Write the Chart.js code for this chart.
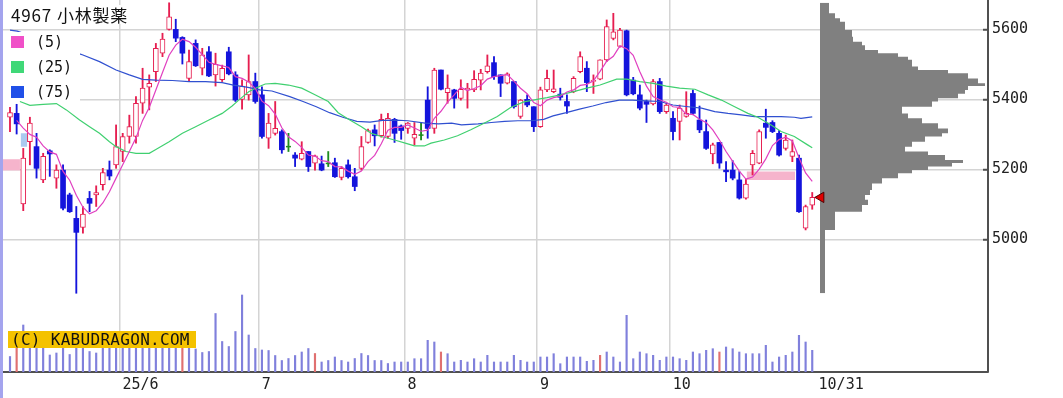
<!DOCTYPE html>
<html>
<head>
<meta charset="utf-8">
<script src="https://cdn.jsdelivr.net/npm/chart.js@4/dist/chart.umd.min.js"></script>
<style>
html, body { margin: 0; padding: 0; background: #fff; overflow: hidden; }
#wrap { position: relative; width: 1060px; height: 398px; border-left: 3px solid #a4a4ee; }
#c { position: absolute; left: 0; top: 0; }
#title { position: absolute; left: 8px; top: 5px; font: 17px "Noto Sans CJK JP", sans-serif; line-height: 19px; letter-spacing: 0.8px; color: #111; background: #fff; }
#title span { margin-left: 5px; }
#legend { position: absolute; left: 0; top: 32px; width: 77px; height: 69px; background: #fff; }
.sq { position: absolute; left: 8px; width: 13px; height: 12px; }
.lt { position: absolute; left: 33px; font: 15px "DejaVu Sans Mono", monospace; line-height: 15px; color: #111; }
#wm { position: absolute; left: 5px; top: 331px; width: 188px; height: 17px; background: #f4c200;
      font: 16px "DejaVu Sans Mono", monospace; line-height: 17px; letter-spacing: 0.3px; color: #111; padding-left: 3px; box-sizing: border-box; }
</style>
</head>
<body>
<div id="wrap">
  <canvas id="c" width="1060" height="398"></canvas>
  <div id="title">4967<span>小林製薬</span></div>
  <div id="legend">
    <div class="sq" style="top:4px;background:#f050c8"></div><div class="lt" style="top:3px">(5)</div>
    <div class="sq" style="top:29px;background:#40d878"></div><div class="lt" style="top:28px">(25)</div>
    <div class="sq" style="top:54px;background:#2050e8"></div><div class="lt" style="top:53px">(75)</div>
  </div>
  <div id="wm">(C) KABUDRAGON.COM</div>
</div>
<script>
// daily candles, 2025-05-08 .. 2025-10-31 (index = trading day)
var opens = [5349,5360,5101,5279,5265,5170,5253,5175,5198,5127,
  5060,5034,5117,5127,5156,5198,5213,5251,5294,5294,
  5389,5435,5479,5532,5600,5600,5577,5460,5560,5489,
  5536,5470,5456,5536,5470,5400,5413,5451,5413,5289,
  5303,5308,5265,5241,5229,5251,5218,5216,5217,5219,
  5177,5213,5179,5203,5277,5313,5296,5294,5343,5324,
  5317,5289,5298,5398,5317,5484,5419,5427,5403,5427,
  5427,5455,5479,5505,5470,5446,5451,5351,5400,5379,
  5322,5427,5422,5415,5394,5422,5479,5489,5451,5458,
  5513,5574,5551,5596,5455,5413,5394,5387,5451,5365,
  5346,5337,5351,5417,5341,5308,5244,5277,5198,5198,
  5170,5118,5213,5218,5332,5334,5303,5260,5237,5232,
  5032,5098];
var highs = [5377,5386,5260,5349,5303,5246,5256,5213,5213,5132,
  5094,5094,5137,5153,5203,5224,5327,5303,5355,5408,
  5489,5470,5560,5589,5676,5629,5579,5541,5570,5546,
  5551,5532,5498,5549,5479,5456,5527,5475,5436,5360,
  5394,5313,5303,5248,5279,5251,5241,5238,5251,5232,
  5208,5227,5203,5294,5315,5327,5358,5360,5346,5327,
  5334,5334,5332,5436,5489,5484,5470,5429,5456,5446,
  5482,5486,5527,5522,5470,5476,5451,5400,5413,5379,
  5435,5484,5484,5432,5413,5465,5536,5508,5470,5513,
  5627,5646,5603,5598,5463,5441,5398,5457,5460,5389,
  5365,5384,5422,5427,5381,5341,5275,5277,5222,5225,
  5194,5172,5254,5313,5372,5339,5311,5298,5284,5241,
  5098,5134];
var lows = [5308,5301,5082,5213,5175,5162,5180,5146,5084,5077,
  4846,5018,5079,5094,5141,5170,5203,5222,5275,5275,
  5360,5370,5451,5522,5598,5565,5501,5451,5494,5470,
  5465,5438,5451,5470,5394,5372,5398,5389,5289,5260,
  5298,5246,5251,5208,5227,5194,5198,5196,5208,5177,
  5170,5175,5139,5198,5275,5267,5292,5289,5277,5286,
  5303,5270,5284,5289,5303,5427,5389,5375,5398,5375,
  5422,5427,5475,5457,5408,5444,5375,5346,5379,5308,
  5320,5422,5419,5398,5360,5419,5476,5422,5417,5456,
  5508,5570,5549,5410,5413,5370,5334,5384,5360,5360,
  5284,5284,5349,5356,5305,5257,5216,5203,5165,5170,
  5115,5115,5184,5216,5289,5305,5238,5255,5222,5077,
  5027,5086];
var closes = [5362,5330,5232,5332,5203,5237,5244,5198,5089,5079,
  5020,5072,5103,5134,5191,5181,5265,5294,5322,5389,
  5432,5446,5546,5572,5636,5575,5532,5508,5496,5527,
  5467,5500,5489,5473,5398,5438,5451,5394,5294,5332,
  5317,5256,5265,5232,5246,5208,5239,5198,5217,5179,
  5203,5179,5151,5265,5311,5296,5343,5346,5303,5311,
  5332,5300,5298,5317,5484,5429,5432,5403,5429,5432,
  5457,5475,5496,5465,5446,5473,5379,5398,5384,5322,
  5427,5460,5430,5406,5381,5460,5522,5448,5455,5513,
  5608,5593,5598,5413,5416,5375,5386,5451,5365,5384,
  5308,5375,5360,5360,5313,5260,5270,5218,5193,5175,
  5118,5158,5246,5308,5320,5308,5241,5284,5251,5079,
  5094,5120];
// volume, thousand shares
var volumes = [155,300,470,280,300,260,170,190,260,175,
  360,300,205,190,250,240,300,280,260,320,
  300,280,330,300,340,310,280,260,230,195,
  205,585,305,255,405,770,370,235,220,215,
  165,115,135,165,200,235,185,100,115,150,
  115,100,135,185,165,115,115,85,100,100,
  100,133,133,317,300,200,183,100,117,100,
  133,100,167,100,100,100,167,117,100,100,
  150,150,183,83,150,150,150,107,117,167,
  200,150,100,567,133,200,183,167,117,150,
  150,133,117,200,183,217,233,200,250,233,
  200,183,183,183,267,100,150,167,200,367,
  300,217];
var sqDays = [1, 26, 46, 65, 89, 107];

var ma5 = [null,5340,5318,5300,5292,5267,5250,5243,5194,5169,
  5126,5092,5073,5082,5104,5136,5175,5213,5251,5290,
  5340,5377,5427,5477,5526,5555,5572,5565,5549,5528,
  5506,5500,5496,5491,5465,5460,5450,5431,5395,5382,
  5358,5319,5293,5280,5263,5241,5238,5225,5222,5208,
  5207,5195,5186,5195,5222,5240,5273,5312,5320,5320,
  5327,5318,5309,5312,5346,5366,5392,5413,5435,5425,
  5431,5439,5458,5465,5468,5471,5452,5432,5416,5391,
  5382,5398,5405,5409,5421,5427,5440,5443,5453,5480,
  5509,5523,5553,5545,5526,5479,5438,5408,5399,5392,
  5379,5377,5358,5357,5343,5334,5313,5284,5251,5223,
  5195,5172,5178,5201,5230,5268,5285,5292,5281,5233,
  5190,5166];
var ma25Idx = [1.5,3,5,7,8.5,10.5,12,13.5,15,16,17.5,19,21,22,24,26,28,30,32,33.5,
  34.5,36,37.5,38.5,40,42,44,46,48,49.5,51,53,54.5,56,58,60,61,62.5,63.5,65.5,
  67.5,69.5,71.5,73.5,75.5,77.5,79.5,81,83,85,87,89,91.5,93,95,97,99,101,103.3,105.3,
  107.3,109.3,111.3,112.8,114.8,116.3,118.3,120.3,121];
var ma25Val = [5394,5383,5386,5388,5370,5341,5322,5303,5279,5265,5251,5246,5246,5257,5279,5303,5322,5341,5360,5381,
  5398,5422,5436,5444,5446,5441,5432,5413,5394,5362,5344,5322,5303,5294,5284,5273,5267,5267,5275,5284,
  5296,5313,5332,5351,5377,5393,5400,5405,5413,5422,5432,5441,5458,5458,5451,5446,5438,5432,5429,5413,
  5398,5379,5360,5349,5327,5308,5294,5270,5262];
var ma75Idx = [0,1.1,10.5,11,13.5,16,18,20,22,24.5,27,29.5,32,33.7,35.7,37.7,39.5,42.2,44.2,46.2,
  48.2,50.2,52.3,54.3,56.2,58.2,60,62.6,64.6,66.6,68.1,70.6,72.6,74.6,76.6,78.6,80.5,81.9,83.9,85.9,
  87.9,89.9,91.9,93.9,96,98,100,102.3,104.3,106.3,108.3,110.3,112.3,114.3,116.3,118.3,119.3,121];
var ma75Val = [5598,5595,5530,5527,5508,5484,5470,5457,5455,5454,5451,5451,5448,5441,5435,5427,5424,5408,5394,5379,
  5362,5349,5337,5335,5340,5341,5339,5332,5330,5332,5327,5330,5334,5337,5339,5339,5343,5353,5362,5372,
  5381,5391,5398,5398,5396,5394,5384,5379,5375,5365,5360,5356,5351,5351,5351,5349,5346,5350];

// price-by-volume profile: bin top price and relative volume
var profTop = [5676,5646,5632,5622,5598,5579,5565,5555,5541,5532,5522,5513,5494,5484,5475,5460,
  5446,5438,5427,5416,5403,5394,5379,5360,5346,5332,5317,5303,5294,5279,5265,5251,
  5241,5227,5218,5208,5198,5189,5175,5160,5141,5127,5113,5098,5079,5027,5018];
var profVol = [9,15,20,25,32,33,42,45,58,78,88,92,98,128,148,158,
  165,148,145,138,118,112,82,88,102,118,128,122,105,92,85,108,
  125,143,132,108,92,78,62,52,50,45,48,42,15,5,5];
var profFloor = 4846;

// open price gaps (from / to day index, price range, direction)
var gapFrom = [-1.1, 1.6, 111.1];
var gapTo = [1.5, 2.6, 118.4];
var gapHi = [5229, 5303, 5194];
var gapLo = [5197, 5265, 5170];
var gapDir = ['up', 'down', 'up'];

var tickIdx = [16.5, 37.5, 59.5, 79.5, 99.5, 121.5];
var tickLabels = ['25/6', '7', '8', '9', '10', '10/31'];
var yTicks = [5000, 5200, 5400, 5600];

var RED = '#e61e50', BLUE = '#1414dc', GREEN = '#1e8c1e';
var N = closes.length;
var up = [], down = [], doji = [], wicks = [], wickColors = [];
for (let i = 0; i < N; i++) {
  wicks.push({x: i, y: [lows[i], highs[i]]});
  if (closes[i] > opens[i]) { up.push({x: i, y: [opens[i], closes[i]]}); wickColors.push(RED); }
  else if (closes[i] < opens[i]) { down.push({x: i, y: [opens[i], closes[i]]}); wickColors.push(BLUE); }
  else { doji.push({x: i, y: closes[i]}); wickColors.push(GREEN); }
}
var volData = volumes.map((v, i) => ({x: i, y: v}));
var volColors = volumes.map((v, i) => sqDays.indexOf(i) >= 0 ? '#e07070' : '#8080dc');

var profPts = [];
profTop.forEach(function(top, k) {
  var bottom = k + 1 < profTop.length ? profTop[k + 1] : profFloor;
  profPts.push({x: profVol[k], y: top}, {x: profVol[k], y: bottom});
});

var gapSets = gapFrom.map(function(a, k) {
  return {
    type: 'line', order: 8,
    data: [{x: a, y: gapHi[k]}, {x: gapTo[k], y: gapHi[k]}],
    fill: {value: gapLo[k]},
    backgroundColor: gapDir[k] == 'up' ? '#f6b4cc' : '#aacaf0',
    borderWidth: 0, pointRadius: 0
  };
});

var line = (idx, vals, color) => ({
  type: 'line', order: 1,
  data: idx.map((x, k) => ({x: x, y: vals[k]})),
  borderColor: color, borderWidth: 1.2, pointRadius: 0, tension: 0, fill: false
});

var ctx = document.getElementById('c').getContext('2d');
var chart = new Chart(ctx, {
  type: 'line',
  data: {
    datasets: [
      {type: 'bar', order: 9, yAxisID: 'yv', data: volData, backgroundColor: volColors,
       barThickness: 1.5, grouped: false},
    ].concat(gapSets).concat([
      {type: 'line', order: 7, indexAxis: 'y', xAxisID: 'xp', yAxisID: 'y', data: profPts,
       fill: 'origin', backgroundColor: '#808080', borderWidth: 0, pointRadius: 0, tension: 0},
      {type: 'bar', order: 4, data: wicks, backgroundColor: wickColors, barThickness: 1.2, grouped: false},
      {type: 'bar', order: 3, data: up, backgroundColor: '#ffffff', borderColor: RED, borderWidth: 1,
       borderSkipped: false, barThickness: 5, grouped: false},
      {type: 'bar', order: 3, data: down, backgroundColor: BLUE, borderWidth: 0, barThickness: 5, grouped: false},
      {type: 'scatter', order: 2, data: doji, pointStyle: 'line', pointRadius: 2.5,
       borderColor: GREEN, pointBorderColor: GREEN, pointBorderWidth: 1.5},
      line(closes.map((c, i) => i), ma5, '#e040c0'),
      line(ma25Idx, ma25Val, '#40d070'),
      line(ma75Idx, ma75Val, '#3050d0'),
      {type: 'scatter', order: 0, data: [{x: N + 0.3, y: closes[N - 1]}], pointStyle: 'triangle',
       pointRotation: -90, pointRadius: 6, backgroundColor: '#e00000', borderColor: '#500000',
       pointBackgroundColor: '#e00000', pointBorderColor: '#500000', pointBorderWidth: 1}
    ])
  },
  options: {
    responsive: false,
    animation: false,
    devicePixelRatio: 1,
    layout: {padding: 0, autoPadding: false},
    plugins: {legend: {display: false}, tooltip: {enabled: false}},
    scales: {
      x: {
        type: 'linear', position: 'bottom', min: -1.056, max: 147.51, offset: false,
        afterBuildTicks: s => { s.ticks = tickIdx.map(v => ({value: v})); },
        afterFit: s => { s.height = 26; s.paddingLeft = 0; s.paddingRight = 0; },
        ticks: {
          callback: (v, k) => tickLabels[k], align: 'start', labelOffset: 3, autoSkip: false,
          maxRotation: 0, padding: 4, color: '#222', font: {family: 'DejaVu Sans Mono', size: 15}
        },
        grid: {
          color: c => c.index === tickIdx.length - 1 ? 'rgba(0,0,0,0)' : '#d4d4d4',
          lineWidth: 1.5, drawTicks: false, offset: false
        },
        border: {display: true, color: '#505050', width: 2}
      },
      y: {
        type: 'linear', position: 'right', min: 4621, max: 5684,
        afterBuildTicks: s => { s.ticks = yTicks.map(v => ({value: v})); },
        afterFit: s => { s.width = 75; s.paddingTop = 0; s.paddingBottom = 0; },
        ticks: {callback: v => String(v), padding: 9, color: '#222', font: {family: 'DejaVu Sans Mono', size: 15}},
        grid: {color: '#d4d4d4', lineWidth: 1.5, drawTicks: true, tickLength: -5, tickColor: '#505050', tickWidth: 2},
        border: {display: true, color: '#505050', width: 2}
      },
      yv: {type: 'linear', axis: 'y', display: false, min: 0, max: 3720},
      xp: {type: 'linear', axis: 'x', display: false, min: -817, max: 168}
    }
  }
});
</script>
</body>
</html>
